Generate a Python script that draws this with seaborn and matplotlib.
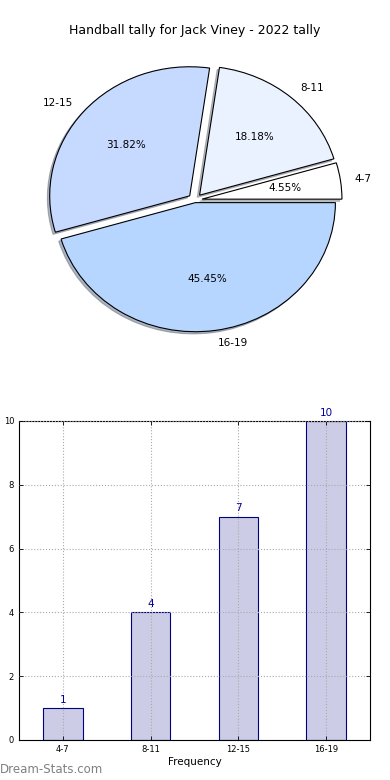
import matplotlib
matplotlib.use("Agg")
import matplotlib.pyplot as plt
import seaborn as sns
import pandas as pd

# data
categories = ["4-7", "8-11", "12-15", "16-19"]
counts = [1, 4, 7, 10]
pie_colors = ["#ffffff", "#eaf2ff", "#c6d9ff", "#b6d6ff"]
explode = [0.05, 0.05, 0.05, 0.02]

title = "Handball tally for Jack Viney - 2022 tally"

sns.set_style("white")
plt.rcParams["font.family"] = ["DejaVu Sans"]
plt.rcParams["text.color"] = "black"
plt.rcParams["xtick.color"] = "black"
plt.rcParams["ytick.color"] = "black"
plt.rcParams["axes.labelcolor"] = "black"

fig = plt.figure(figsize=(3.9, 7.8), dpi=100)

# pie (not circular, like the old reference output)
ax1 = fig.add_axes([0.141, 0.578, 0.718, 0.331])
wedges, texts, autotexts = ax1.pie(
    counts, labels=categories, colors=pie_colors, explode=explode,
    autopct="%.2f%%", shadow={"ox": -0.012, "oy": -0.012, "shade": 0.5},
    startangle=0,
    wedgeprops=dict(edgecolor="black", linewidth=0.8),
    textprops=dict(fontsize=7.5, color="black"),
)
ax1.set_aspect("auto")
ax1.set_xlim(-1, 1)
ax1.set_ylim(-1, 1)
ax1.axis("off")
fig.text(0.5, 0.961, title, ha="center", va="center", fontsize=9, color="black")

# bar chart
ax2 = fig.add_axes([0.0487, 0.0513, 0.9, 0.409])
df = pd.DataFrame({"range": categories, "count": counts})
sns.barplot(data=df, x="range", y="count", color="#ccccE6", saturation=1,
            edgecolor="navy", linewidth=0.8, width=0.45, ax=ax2)
ax2.set_xlim(-0.5, 3.5)
ax2.set_ylim(0, 10)
ax2.set_yticks([0, 2, 4, 6, 8, 10])
ax2.grid(True, linestyle=":", color="#aaaaaa", linewidth=0.8)
ax2.set_axisbelow(False)
for s in ax2.spines.values():
    s.set_color("black")
    s.set_linewidth(0.8)
ax2.tick_params(labelsize=6, direction="in", length=3, width=0.6,
                top=True, right=True, bottom=True, left=True)
for i, v in enumerate(counts):
    ax2.text(i, v + 0.1, str(v), ha="center", va="bottom", color="#0000a0", fontsize=7.5)
ax2.set_xlabel("Frequency", fontsize=7.5, labelpad=2)
ax2.set_ylabel("Games Played", fontsize=7)
ax2.yaxis.set_label_coords(-0.06, 0.5)

fig.text(0.0, 0.013, "Dream-Stats.com", color="#808080", fontsize=8.5, ha="left", va="center")

fig.savefig("out.png", dpi=100)
